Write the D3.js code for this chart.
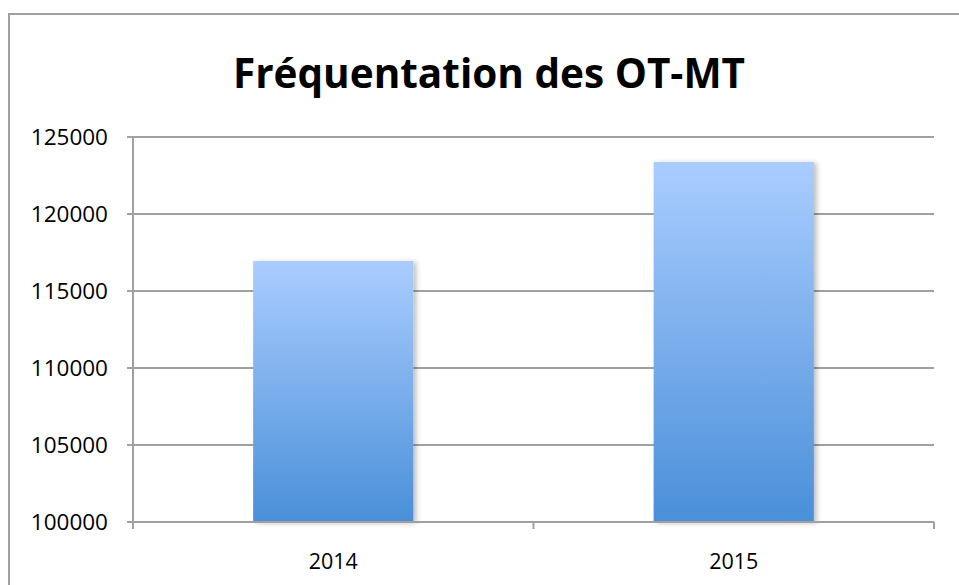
<!DOCTYPE html>
<html lang="fr">
<head>
<meta charset="UTF-8" />
<title>Fréquentation des OT-MT</title>
<script src="https://d3js.org/d3.v7.min.js"></script>
<style>
  body { margin: 0; background: #fff; }
  text { font-family: 'Open Sans', 'Liberation Sans', sans-serif; fill: #000; }
</style>
</head>
<body>
<div id="chart"></div>
<script>
// data
const years = ["2014", "2015"];
const visits = [116950, 123380];
const yTicks = [100000, 105000, 110000, 115000, 120000, 125000];
const title = "Fréquentation des OT-MT";

const W = 959, H = 585;
const plot = { left: 133, top: 137, right: 934, bottom: 522 };

const svg = d3.select("#chart").append("svg")
  .attr("width", W).attr("height", H);

const defs = svg.append("defs");
const grad = defs.append("linearGradient")
  .attr("id", "barGrad").attr("x1", 0).attr("y1", 0).attr("x2", 0).attr("y2", 1);
grad.append("stop").attr("offset", "0%").attr("stop-color", "#aacdff");
grad.append("stop").attr("offset", "100%").attr("stop-color", "#4a8fd9");

const shadow = defs.append("filter").attr("id", "shadow")
  .attr("x", "-10%").attr("y", "-10%").attr("width", "130%").attr("height", "130%");
shadow.append("feDropShadow")
  .attr("dx", 3).attr("dy", 1).attr("stdDeviation", 2.5)
  .attr("flood-color", "#000").attr("flood-opacity", 0.25);

// outer frame (runs off the right/bottom edge)
svg.append("path")
  .attr("d", `M9,${H + 10} V14 H${W + 10}`)
  .attr("fill", "none").attr("stroke", "#a0a0a0").attr("stroke-width", 2);

// title
svg.append("text")
  .attr("x", 489).attr("y", 88)
  .attr("text-anchor", "middle")
  .attr("font-size", 40.5).attr("font-weight", 700)
  .text(title);

const x = d3.scaleBand().domain(years)
  .range([plot.left, plot.right]).paddingInner(0.6).paddingOuter(0.3);
const y = d3.scaleLinear().domain([100000, 125000])
  .range([plot.bottom, plot.top]);

// gridlines + left ticks
svg.append("g").selectAll("line").data(yTicks).join("line")
  .attr("x1", plot.left - 6).attr("x2", plot.right)
  .attr("y1", d => y(d)).attr("y2", d => y(d))
  .attr("stroke", "#a0a0a0").attr("stroke-width", 2);

// y labels
svg.append("g").selectAll("text").data(yTicks).join("text")
  .attr("x", 108).attr("y", d => y(d))
  .attr("dy", "0.36em")
  .attr("text-anchor", "end")
  .attr("font-size", 22.5)
  .text(d => d);

// bars
svg.append("g").selectAll("rect").data(years).join("rect")
  .attr("x", d => x(d))
  .attr("width", x.bandwidth())
  .attr("y", (d, i) => y(visits[i]))
  .attr("height", (d, i) => y(100000) - y(visits[i]))
  .attr("fill", "url(#barGrad)")
  .attr("filter", "url(#shadow)");

// axes lines
svg.append("line")
  .attr("x1", plot.left).attr("x2", plot.left)
  .attr("y1", plot.top).attr("y2", plot.bottom + 7)
  .attr("stroke", "#a0a0a0").attr("stroke-width", 2);
svg.append("line")
  .attr("x1", plot.left).attr("x2", plot.right)
  .attr("y1", plot.bottom).attr("y2", plot.bottom)
  .attr("stroke", "#a0a0a0").attr("stroke-width", 2);

// category boundary ticks
const bounds = [plot.left, x(years[1]) - x.step() * x.paddingInner() / 2, plot.right];
svg.append("g").selectAll("line").data(bounds).join("line")
  .attr("x1", d => d).attr("x2", d => d)
  .attr("y1", plot.bottom).attr("y2", plot.bottom + 7)
  .attr("stroke", "#a0a0a0").attr("stroke-width", 2);

// x labels
svg.append("g").selectAll("text").data(years).join("text")
  .attr("x", d => x(d) + x.bandwidth() / 2)
  .attr("y", 561).attr("dy", "0.36em")
  .attr("text-anchor", "middle")
  .attr("font-size", 21.5)
  .text(d => d);
</script>
</body>
</html>
